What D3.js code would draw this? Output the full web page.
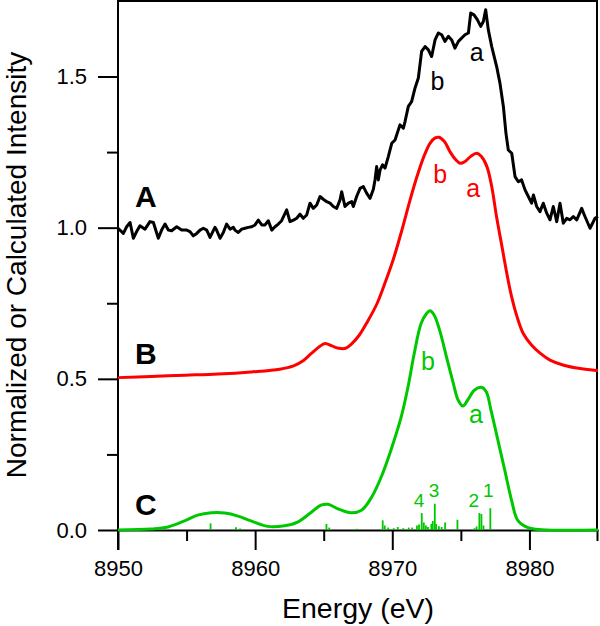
<!DOCTYPE html>
<html>
<head>
<meta charset="utf-8">
<script src="https://cdn.jsdelivr.net/npm/d3@7"></script>
<style>
  html, body { margin: 0; padding: 0; background: #fff; }
  svg { display: block; font-family: "Liberation Sans", Arial, Helvetica, sans-serif; }
</style>
</head>
<body>
<svg id="chart" width="600" height="626"></svg>
<script>
// ---------- data ----------
// A: experimental spectrum [energy eV, normalized intensity]
const seriesA = [
  [8950.00,0.998],[8950.39,0.981],[8950.63,1.003],[8950.88,1.017],[8951.12,0.965],[8951.36,0.987],
  [8951.60,1.006],[8951.97,0.995],[8952.33,1.020],[8952.58,1.017],[8952.94,0.965],[8953.18,0.992],
  [8953.43,1.012],[8953.67,0.992],[8953.91,0.990],[8954.28,1.003],[8954.64,0.992],[8955.01,0.992],
  [8955.25,0.987],[8955.49,0.973],[8955.74,0.981],[8955.98,0.992],[8956.22,0.998],[8956.47,0.992],
  [8956.71,0.968],[8956.95,0.990],[8957.07,1.001],[8957.19,0.992],[8957.44,0.965],[8957.68,0.984],
  [8957.92,1.012],[8958.17,0.995],[8958.41,1.001],[8958.53,0.992],[8958.77,0.984],[8959.02,0.995],
  [8959.26,0.998],[8959.50,1.001],[8959.75,1.003],[8959.99,1.009],[8960.23,1.025],[8960.48,1.009],
  [8960.72,1.009],[8960.96,1.023],[8961.21,0.992],[8961.45,1.003],[8961.69,1.012],[8961.93,1.023],
  [8962.30,1.059],[8962.54,1.020],[8962.79,1.025],[8963.03,1.031],[8963.27,1.045],[8963.51,1.031],
  [8963.76,1.042],[8964.00,1.081],[8964.24,1.064],[8964.49,1.075],[8964.73,1.103],[8964.97,1.094],
  [8965.22,1.086],[8965.46,1.081],[8965.70,1.070],[8965.95,1.064],[8966.19,1.092],[8966.31,1.119],
  [8966.55,1.070],[8966.80,1.081],[8967.04,1.086],[8967.16,1.070],[8967.40,1.103],[8967.65,1.130],
  [8967.89,1.136],[8968.13,1.114],[8968.38,1.097],[8968.62,1.127],[8968.74,1.158],[8968.86,1.202],
  [8968.98,1.158],[8969.11,1.191],[8969.30,1.208],[8969.47,1.197],[8969.71,1.235],[8969.96,1.279],
  [8970.20,1.290],[8970.56,1.340],[8970.81,1.329],[8970.93,1.351],[8971.17,1.401],[8971.41,1.417],
  [8971.66,1.462],[8971.90,1.495],[8972.14,1.583],[8972.39,1.599],[8972.63,1.588],[8972.87,1.566],
  [8973.12,1.621],[8973.36,1.644],[8973.60,1.638],[8973.84,1.616],[8974.09,1.633],[8974.33,1.621],
  [8974.57,1.594],[8974.82,1.616],[8975.30,1.638],[8975.55,1.644],[8975.72,1.710],[8975.96,1.704],
  [8976.20,1.688],[8976.45,1.666],[8976.64,1.682],[8976.81,1.721],[8977.00,1.655],[8977.25,1.599],
  [8977.61,1.533],[8977.85,1.478],[8978.10,1.401],[8978.29,1.312],[8978.46,1.257],[8978.71,1.246],
  [8978.95,1.169],[8979.19,1.152],[8979.43,1.158],[8979.68,1.125],[8979.92,1.103],[8980.16,1.081],
  [8980.29,1.108],[8980.53,1.070],[8980.77,1.053],[8981.01,1.081],[8981.26,1.048],[8981.50,1.026],
  [8981.74,1.070],[8981.99,1.020],[8982.23,1.081],[8982.47,1.015],[8982.72,1.031],[8982.96,1.026],
  [8983.20,1.037],[8983.45,1.026],[8983.81,1.064],[8984.05,1.037],[8984.42,0.998],[8984.78,1.031],
  [8985.00,1.037]
];
// B: calculated spectrum (offset), red
const seriesB = [
  [8950.0,0.504],[8952.4,0.508],[8954.9,0.512],[8957.3,0.516],[8959.7,0.523],[8961.8,0.532],
  [8962.8,0.543],[8963.5,0.560],[8964.1,0.584],[8964.7,0.607],[8965.1,0.617],[8965.6,0.609],
  [8966.1,0.601],[8966.6,0.601],[8967.0,0.614],[8967.6,0.645],[8968.2,0.690],[8968.9,0.750],
  [8969.5,0.821],[8970.1,0.899],[8970.7,0.992],[8971.3,1.092],[8971.8,1.169],[8972.3,1.235],
  [8972.75,1.279],[8973.1,1.296],[8973.4,1.299],[8973.8,1.285],[8974.2,1.252],[8974.6,1.226],
  [8974.95,1.213],[8975.3,1.219],[8975.7,1.235],[8976.15,1.246],[8976.5,1.235],[8976.9,1.202],
  [8977.25,1.136],[8977.6,1.037],[8978.0,0.937],[8978.35,0.849],[8978.7,0.772],[8979.1,0.705],
  [8979.55,0.650],[8980.15,0.612],[8980.8,0.584],[8981.5,0.562],[8982.5,0.545],[8983.7,0.534],
  [8985.0,0.527]
];
// C: calculated spectrum, green
const seriesC = [
  [8950.0,0.000],[8952.4,0.003],[8953.65,0.010],[8954.85,0.030],[8955.8,0.049],[8956.8,0.057],
  [8957.8,0.056],[8958.75,0.046],[8959.7,0.030],[8960.9,0.012],[8962.15,0.014],[8963.1,0.026],
  [8964.1,0.059],[8964.8,0.082],[8965.3,0.085],[8966.0,0.071],[8967.0,0.057],[8967.75,0.065],
  [8968.5,0.109],[8969.2,0.176],[8969.9,0.264],[8970.65,0.374],[8971.15,0.474],[8971.6,0.584],
  [8972.1,0.683],[8972.5,0.716],[8972.75,0.725],[8973.05,0.711],[8973.45,0.661],[8973.95,0.573],
  [8974.45,0.485],[8974.8,0.430],[8975.15,0.410],[8975.5,0.430],[8976.0,0.463],[8976.5,0.472],
  [8976.85,0.457],[8977.2,0.396],[8977.7,0.297],[8978.2,0.198],[8978.7,0.098],[8979.15,0.032],
  [8979.9,0.008],[8980.9,0.001],[8985.0,0.000]
];
// C: calculated transitions (stick spectrum)
const sticks = [
  [8956.75,0.022],[8958.6,0.009],[8958.9,0.005],[8965.2,0.020],[8965.4,0.008],[8967.4,0.004],
  [8969.3,0.032],[8969.45,0.015],[8969.7,0.008],[8970.1,0.006],[8970.4,0.010],[8970.8,0.006],
  [8971.2,0.008],[8971.45,0.008],[8971.8,0.015],[8971.95,0.018],[8972.15,0.056],[8972.3,0.025],
  [8972.45,0.015],[8972.6,0.010],[8972.85,0.020],[8972.95,0.030],[8973.1,0.087],[8973.2,0.020],
  [8973.4,0.012],[8973.6,0.010],[8973.85,0.025],[8974.75,0.034],[8976.0,0.006],[8976.15,0.012],
  [8976.35,0.056],[8976.5,0.053],[8976.65,0.015],[8977.15,0.072]
];
const xMajorTicks = [8950, 8960, 8970, 8980];
const xMinorTicks = [8955, 8965, 8975, 8985];
const yMajorTicks = [0, 0.5, 1.0, 1.5];
const yMinorTicks = [0.25, 0.75, 1.25];
const panelLabels = [["A", 1.07], ["B", 0.55], ["C", 0.05]];
const peakLabels = [
  ["b", 8973.3, 1.455, "#000"], ["a", 8976.15, 1.55, "#000"],
  ["b", 8973.5, 1.148, "#ff0000"], ["a", 8975.9, 1.102, "#ff0000"],
  ["b", 8972.6, 0.529, "#00c800"], ["a", 8976.1, 0.353, "#00c800"]
];
const stickLabels = [["4", 8971.95, 0.075], ["3", 8973.05, 0.108], ["2", 8975.95, 0.075], ["1", 8977.0, 0.108]];

// ---------- layout ----------
const svg = d3.select("#chart");
const plotLeft = 118, plotRight = 598;
const x = d3.scaleLinear().domain([8950, 8985]).range([plotLeft, plotRight]);
const y = d3.scaleLinear().domain([0, 1.5]).range([530, 76.5]);
const y0 = y(0);

// frame (top & right)
svg.append("line").attr("x1", plotLeft).attr("x2", plotRight).attr("y1", 1).attr("y2", 1)
  .attr("stroke", "#000").attr("stroke-width", 2);
svg.append("line").attr("x1", plotRight - 1).attr("x2", plotRight - 1).attr("y1", 0).attr("y2", y0)
  .attr("stroke", "#000").attr("stroke-width", 2);

// axes
function styleAxis(g) {
  g.selectAll("path").attr("stroke", "#000").attr("stroke-width", 2);
  g.selectAll("line").attr("stroke", "#000").attr("stroke-width", 2);
  g.selectAll("text").attr("fill", "#000").style("font-size", "22px")
    .style("font-family", '"Liberation Sans", Arial, sans-serif');
}
const xAxisMajor = svg.append("g").attr("transform", `translate(0,${y0})`)
  .call(d3.axisBottom(x).tickValues(xMajorTicks).tickSize(20).tickSizeOuter(0).tickPadding(10).tickFormat(d3.format("d")));
styleAxis(xAxisMajor);
const xAxisMinor = svg.append("g").attr("transform", `translate(0,${y0})`)
  .call(d3.axisBottom(x).tickValues(xMinorTicks).tickSize(11).tickSizeOuter(0).tickFormat(""));
styleAxis(xAxisMinor);
xAxisMinor.select("path").remove();
xAxisMinor.selectAll(".tick line").attr("transform", d => d === 8985 ? "translate(-1,0)" : null);

const yAxisMajor = svg.append("g").attr("transform", `translate(${plotLeft},0)`)
  .call(d3.axisLeft(y).tickValues(yMajorTicks).tickSize(20).tickSizeOuter(0).tickPadding(11).tickFormat(d3.format(".1f")));
styleAxis(yAxisMajor);
yAxisMajor.select("path").attr("d", `M0,0V${y0}`);
const yAxisMinor = svg.append("g").attr("transform", `translate(${plotLeft},0)`)
  .call(d3.axisLeft(y).tickValues(yMinorTicks).tickSize(11).tickSizeOuter(0).tickFormat(""));
styleAxis(yAxisMinor);
yAxisMinor.select("path").remove();
svg.append("line").attr("x1", plotLeft).attr("x2", plotLeft).attr("y1", y0).attr("y2", y0 + 20)
  .attr("stroke", "#000").attr("stroke-width", 2);

// axis titles
svg.append("text").attr("x", (plotLeft + plotRight) / 2).attr("y", 618).attr("text-anchor", "middle")
  .style("font-size", "28.5px").text("Energy (eV)");
svg.append("text").attr("transform", `translate(26,${y0 / 2}) rotate(-90)`).attr("text-anchor", "middle")
  .style("font-size", "28px").text("Normalized or Calculated Intensity");

// sticks
svg.append("g").selectAll("line").data(sticks).join("line")
  .attr("x1", d => x(d[0])).attr("x2", d => x(d[0]))
  .attr("y1", y0).attr("y2", d => y(d[1]))
  .attr("stroke", "#00c800").attr("stroke-width", 1.8);

// curves
const lineSharp = d3.line().x(d => x(d[0])).y(d => y(d[1]));
const lineSmooth = d3.line().x(d => x(d[0])).y(d => y(d[1])).curve(d3.curveCatmullRom.alpha(0.5));
svg.append("path").datum(seriesC).attr("d", lineSmooth).attr("fill", "none")
  .attr("stroke", "#00c800").attr("stroke-width", 3);
svg.append("path").datum(seriesB).attr("d", lineSmooth).attr("fill", "none")
  .attr("stroke", "#ff0000").attr("stroke-width", 3);
svg.append("path").datum(seriesA).attr("d", lineSharp).attr("fill", "none")
  .attr("stroke", "#000").attr("stroke-width", 3).attr("stroke-linejoin", "round");

// panel labels
svg.append("g").selectAll("text").data(panelLabels).join("text")
  .attr("x", 135).attr("y", d => y(d[1]))
  .style("font-size", "30px").style("font-weight", "bold").text(d => d[0]);

// peak labels
svg.append("g").selectAll("text").data(peakLabels).join("text")
  .attr("x", d => x(d[1])).attr("y", d => y(d[2])).attr("text-anchor", "middle")
  .attr("fill", d => d[3]).style("font-size", "25px").text(d => d[0]);

// stick labels
svg.append("g").selectAll("text").data(stickLabels).join("text")
  .attr("x", d => x(d[1])).attr("y", d => y(d[2])).attr("text-anchor", "middle")
  .attr("fill", "#00c800").style("font-size", "19px").text(d => d[0]);
</script>
</body>
</html>
